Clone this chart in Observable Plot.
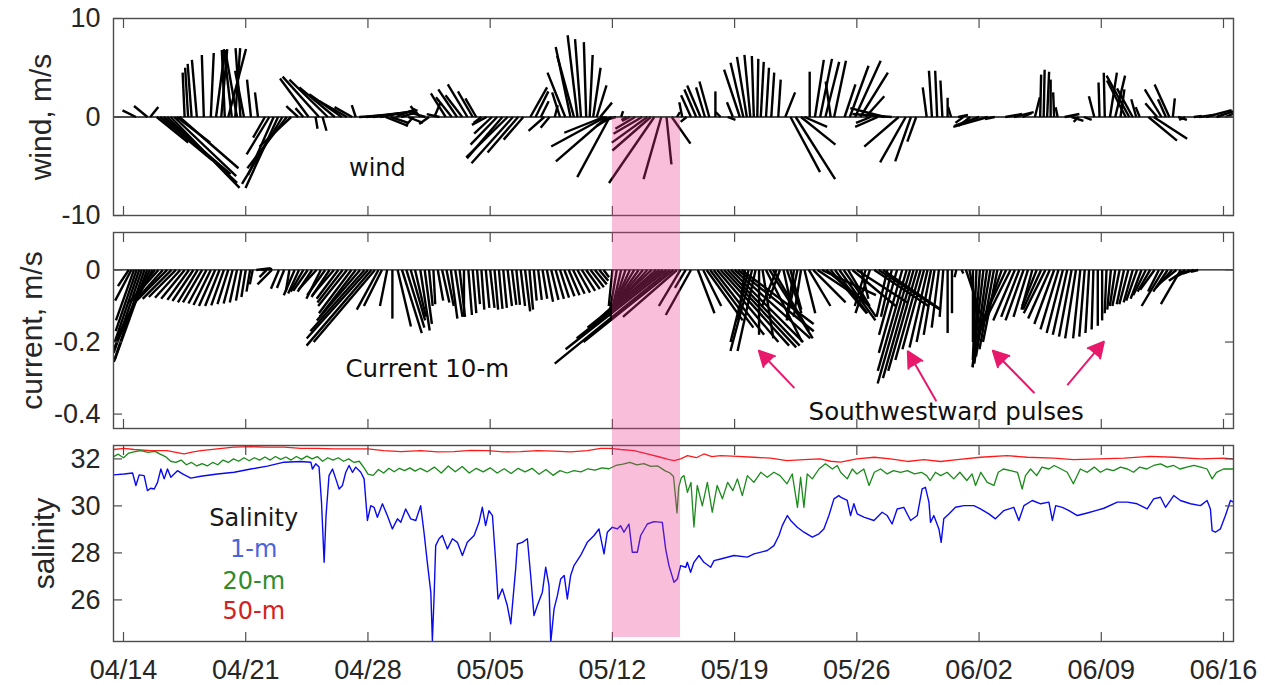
<!DOCTYPE html>
<html><head><meta charset="utf-8">
<script src="https://cdn.jsdelivr.net/npm/d3@7"></script>
<script src="https://cdn.jsdelivr.net/npm/@observablehq/plot@0.6"></script>
<style>
body{margin:0;background:#fff;}
#wrap{position:relative;width:1265px;height:685px;overflow:hidden}
#wrap svg{display:block;position:absolute;left:0}
.band{position:absolute;background:rgb(233,52,139);opacity:0.32;pointer-events:none}
</style></head><body><div id="wrap"></div><script>
// ---------- data (time t = days since 04/14 00:00) ----------
const xTickDays = [0, 7, 14, 21, 28, 35, 42, 49, 56, 63];
const xTickLabels = ["04/14","04/21","04/28","05/05","05/12","05/19","05/26","06/02","06/09","06/16"];
const windTicks = [-10, 0, 10];
const currentTicks = [-0.4, -0.2, 0];
const salinityTicks = [26, 28, 30, 32];
const highlightDays = [28.0, 31.93];

// wind sticks: [t, u (east, m/s), v (north, m/s)]
const windSticks = [
[0.71,-1.36,0.68],[1.37,-1.36,1.12],[1.53,0.82,1.02],[1.9,3.2,-2.6],[2.1,5.3,-4.4],[2.3,6.8,-5.8],[2.5,7.1,-6.7],[2.7,7.0,-7.2],[2.9,6.3,-6.0],[3.05,3.4,-2.6],[3.2,6.0,-5.2],
[3.5,-0.2,4.5],[3.7,-0.3,5.0],[3.9,-0.4,5.4],[4.2,-0.5,5.8],[4.6,-0.2,6.3],[5.0,0.3,6.5],[5.3,0.9,6.8],[5.6,0.6,6.9],[5.8,-0.3,6.8],[6.0,1.8,6.9],[6.2,-0.8,6.9],[6.4,0.5,7.0],[6.5,-1.2,6.8],[6.7,-0.5,7.0],[6.9,-0.9,4.7],[7.3,-0.4,3.8],[7.7,-0.3,2.5],
[8.1,-1.2,-2.1],[8.35,-2.3,-3.8],[8.6,-2.6,-5.9],[8.85,-3.3,-7.2],[9.1,-4.1,-6.8],[9.35,-4.0,-5.2],[9.6,-3.2,-3.0],
[10.0,-1.2,1.1],[10.3,-0.8,0.9],[10.6,-2.9,3.9],[11.0,0.2,-1.2],[11.2,-3.7,4.1],[11.4,0.4,-1.4],[11.7,-3.9,3.8],[12.1,-3.6,3.0],[12.5,-3.3,2.3],[12.8,-2.8,1.6],[13.1,-1.8,1.0],[13.3,-0.4,1.2],
[13.5,3.0,0.2],[13.9,3.6,0.4],[14.3,4.2,0.6],[14.7,3.8,0.7],[15.0,2.3,-0.9],[15.3,1.8,-0.6],[15.6,2.0,0.8],[15.9,1.6,0.5],[16.3,1.5,-0.6],[16.6,-0.8,-0.9],
[17.0,-1.0,1.1],[17.3,-1.4,0.4],[17.5,-1.0,-0.7],[17.8,0.6,1.4],[18.1,-1.3,0.3],[18.45,-1.5,2.4],[18.8,-1.6,2.0],[19.1,-1.9,2.8],[19.4,-1.7,2.2],[19.7,-2.0,3.3],[20.0,-1.5,2.6],[20.2,-1.1,1.9],
[20.5,-0.8,-0.6],[20.8,-1.5,-0.8],[21.1,-1.8,-1.7],[21.4,-2.7,-2.8],[21.7,-3.6,-4.2],[22.0,-4.2,-4.1],[22.3,-4.2,-4.7],[22.6,-3.1,-3.6],[22.9,-2.0,-2.3],
[23.3,1.7,3.0],[23.6,1.3,2.6],[23.9,0.8,1.6],[24.1,-1.6,-1.4],[24.4,-0.9,-1.1],[24.7,0.3,1.2],[25.0,-0.8,2.5],[25.3,-1.8,4.5],[25.6,-1.5,7.1],[25.8,-1.7,6.2],[26.0,-1.0,8.3],[26.2,-0.6,7.9],[26.5,-0.24,7.6],[26.7,0.3,6.3],[26.9,0.75,5.0],[27.1,1.0,3.2],[27.3,1.2,1.46],
[27.5,-4.0,-1.6],[27.6,-5.5,-3.0],[27.7,-5.2,-4.5],[27.85,-3.3,-6.1],[27.95,-1.5,-0.9],[28.2,-1.0,-0.3],[28.5,0.2,0.6],[28.8,-0.5,-0.3],[29.0,-0.8,-0.4],[29.3,-2.0,-1.2],[29.7,-2.9,-1.7],[30.0,-3.6,-2.6],[30.2,-3.9,-3.4],[30.4,-4.6,-6.7],[30.8,-1.8,-6.3],[31.1,0.5,-4.8],[31.4,1.9,-2.7],[31.7,0.3,0.5],
[32.0,-0.3,1.5],[32.25,-0.6,-0.5],[32.5,-1.0,2.2],[32.8,-1.2,2.8],[33.05,-1.36,3.2],[33.3,-0.9,3.0],[33.55,-1.0,3.6],[33.9,0.0,2.6],[34.2,-0.5,0.5],[34.6,0.8,-0.3],[34.9,-0.6,1.5],
[35.3,-1.6,4.8],[35.5,-1.3,5.5],[35.7,-1.0,6.1],[35.9,-0.6,6.3],[36.1,-0.2,6.2],[36.3,0.1,5.9],[36.5,0.3,5.6],[36.8,0.3,5.0],[37.1,0.3,4.5],[37.5,0.25,3.8],[37.9,1.0,2.5],
[38.2,3.0,-5.6],[38.5,4.0,-6.3],[38.8,3.5,-2.8],[39.0,2.3,-1.0],[39.3,0.0,4.6],[39.6,0.9,5.8],[39.9,1.2,5.9],[40.2,1.4,5.6],[40.5,-0.5,3.6],[40.7,1.2,5.7],
[41.3,1.1,3.3],[41.6,1.9,5.2],[41.9,2.6,5.7],[42.2,2.8,4.5],[42.5,1.9,2.1],[42.8,-1.5,-0.6],[43.2,-2.3,-1.0],[43.6,-3.5,0.9],[44.0,-4.0,0.3],[44.4,-3.5,-3.0],[44.8,-2.6,-4.6],[45.1,-1.6,-4.5],[45.4,-0.9,-2.5],
[46.0,-0.4,3.0],[46.3,-0.3,4.7],[46.6,-0.2,4.7],[46.9,-0.2,3.7],[47.2,0.0,1.95],[47.4,-0.3,1.0],[47.8,1.0,0.2],[48.1,-0.8,-0.6],[48.5,-1.2,-0.9],[49.0,-2.5,-0.9],[49.5,-3.5,-1.0],[49.9,-1.0,-0.2],
[50.5,1.7,0.3],[51.0,2.0,0.5],[51.5,0.9,0.4],[52.2,0.5,2.0],[52.5,0.1,4.3],[52.7,0.1,4.8],[52.9,0.2,4.6],[53.1,0.0,3.8],[53.3,-0.1,2.5],[53.5,-0.2,1.0],
[53.9,1.5,0.3],[54.3,1.2,-0.4],[54.7,-0.5,-0.5],[55.0,0.8,-0.3],[55.6,-0.55,2.1],[55.9,-0.1,3.5],[56.2,-0.1,4.5],[56.5,0.7,4.5],[56.8,1.0,4.2],[57.1,0.4,2.8],[57.4,-1.9,3.7],[57.6,-2.3,4.2],[57.8,-1.6,2.9],[58.0,-0.5,1.8],[58.2,-0.4,1.0],
[58.7,2.9,-2.4],[59.0,3.4,-2.2],[59.2,-1.2,1.4],[59.45,-1.7,2.8],[59.7,-0.8,1.8],[59.9,-1.5,3.3],[60.1,0.2,1.9],[60.4,0.9,-0.3],[60.8,-0.6,-0.3],
[61.3,0.8,0.1],[61.6,1.5,0.2],[62.0,2.6,0.7],[62.6,3.3,1.1],[63.1,2.0,0.8]
];

// current sticks at 10 m: [t, u, v] (m/s)
const currentSticks = [
[0.3,-0.03,-0.045],[0.45,-0.045,-0.085],[0.6,-0.05,-0.14],[0.75,-0.058,-0.17],[0.9,-0.068,-0.2],[1.05,-0.078,-0.23],[1.2,-0.085,-0.255],[1.35,-0.09,-0.25],[1.5,-0.1,-0.22],[1.65,-0.1,-0.19],
[1.8,-0.07,-0.09],[2.0,-0.08,-0.09],[2.25,-0.08,-0.09],[2.5,-0.085,-0.085],[2.75,-0.08,-0.08],[3.0,-0.075,-0.075],[3.25,-0.07,-0.077],[3.5,-0.065,-0.08],[3.75,-0.06,-0.083],[4.0,-0.058,-0.086],[4.25,-0.055,-0.09],[4.5,-0.053,-0.09],[4.75,-0.05,-0.093],[5.0,-0.048,-0.097],[5.25,-0.045,-0.1],[5.5,-0.04,-0.1],[5.75,-0.035,-0.098],[6.0,-0.03,-0.095],[6.25,-0.025,-0.093],[6.5,-0.02,-0.09],[6.75,-0.015,-0.085],[7.0,-0.012,-0.075],[7.25,-0.01,-0.06],[7.4,-0.008,-0.04],
[7.6,0.04,0.005],[7.9,0.03,0.003],[8.2,-0.02,-0.02],[8.5,-0.04,-0.04],[8.9,-0.022,-0.052],[9.2,-0.02,-0.05],[9.5,-0.01,-0.06],
[9.8,-0.03,-0.07],[10.05,-0.03,-0.065],[10.3,-0.035,-0.06],[10.55,-0.04,-0.058],[10.8,-0.04,-0.06],[11.05,-0.05,-0.055],[11.3,-0.04,-0.08],[11.55,-0.05,-0.07],[11.8,-0.05,-0.075],[12.05,-0.06,-0.07],[12.3,-0.06,-0.08],[12.55,-0.07,-0.09],[12.8,-0.08,-0.1],[13.05,-0.09,-0.12],[13.3,-0.1,-0.13],[13.55,-0.12,-0.14],[13.8,-0.15,-0.17],[14.0,-0.17,-0.19],[14.2,-0.18,-0.21],[14.4,-0.17,-0.2],[14.6,-0.06,-0.11],[14.8,-0.05,-0.1],
[15.1,-0.02,-0.1],[15.4,0.0,-0.135],[15.7,0.037,-0.157],[15.95,0.055,-0.175],[16.2,0.05,-0.16],[16.45,0.04,-0.14],[16.7,0.03,-0.13],
[17.0,0.026,-0.168],[17.25,0.02,-0.15],[17.5,0.01,-0.1],[17.75,0.005,-0.095],[18.0,0.015,-0.085],[18.25,0.02,-0.09],[18.5,0.02,-0.1],[18.75,0.018,-0.135],[19.0,0.02,-0.13],[19.25,0.015,-0.13],[19.5,0.0,-0.13],[19.75,0.01,-0.125],[20.0,0.01,-0.12],[20.25,0.008,-0.095],[20.5,0.008,-0.11],[20.75,0.01,-0.105],[21.0,0.012,-0.105],[21.25,0.01,-0.11],[21.5,0.01,-0.108],[21.75,0.01,-0.105],[22.0,0.012,-0.1],[22.25,0.012,-0.097],[22.5,0.01,-0.097],[22.75,0.012,-0.1],[23.0,0.014,-0.115],[23.25,0.01,-0.11],[23.5,0.008,-0.085],[23.75,0.01,-0.083],[24.0,0.013,-0.08],[24.25,0.017,-0.088],[24.5,0.02,-0.083],[24.75,0.023,-0.08],[25.0,0.025,-0.077],[25.25,0.028,-0.073],[25.5,0.03,-0.07],[25.75,0.032,-0.066],[26.0,0.035,-0.063],[26.25,0.037,-0.058],[26.5,0.038,-0.053],[26.75,0.037,-0.048],[27.0,0.033,-0.04],[27.25,0.025,-0.03],[27.5,0.015,-0.02],
[28.0,-0.01,-0.1],[28.25,-0.02,-0.12],[28.5,-0.03,-0.13],[28.75,-0.04,-0.12],[29.0,-0.05,-0.11],[29.25,-0.06,-0.1],[29.5,-0.07,-0.1],[29.75,-0.09,-0.11],[30.0,-0.11,-0.12],[30.25,-0.14,-0.13],[30.5,-0.17,-0.15],[30.7,-0.2,-0.16],[30.9,-0.24,-0.19],[31.1,-0.28,-0.22],[31.3,-0.32,-0.26],[31.5,-0.25,-0.2],[31.7,-0.15,-0.13],[31.9,-0.06,-0.1],[32.2,-0.03,-0.05],[32.5,-0.07,-0.125],[32.9,0.046,-0.12],
[33.2,0.05,-0.1],[33.4,0.1,-0.14],[33.6,0.12,-0.16],[33.8,0.14,-0.18],[34.0,0.17,-0.2],[34.2,0.19,-0.21],[34.4,0.2,-0.215],[34.6,0.2,-0.21],[34.8,0.2,-0.2],[35.0,0.21,-0.19],[35.2,0.21,-0.17],[35.4,0.2,-0.15],[35.6,-0.02,-0.14],[35.8,-0.05,-0.2],[36.0,-0.06,-0.225],[36.2,-0.05,-0.225],[36.4,0.0,-0.18],[36.6,0.03,-0.19],[36.8,0.1,-0.2],[37.0,0.12,-0.19],[37.2,0.1,-0.17],[37.4,-0.04,-0.1],[37.6,-0.03,-0.08],[37.8,0.02,-0.09],[38.0,0.04,-0.12],[38.2,0.03,-0.11],[38.4,-0.02,-0.13],[38.6,-0.03,-0.14],[38.8,-0.02,-0.13],[39.0,0.03,-0.12],[39.25,0.06,-0.1],[39.5,0.09,-0.09],[39.75,0.12,-0.08],[40.0,0.15,-0.07],
[40.25,0.12,-0.1],[40.5,0.1,-0.12],[40.75,0.09,-0.12],[41.0,0.1,-0.14],[41.25,0.09,-0.13],[41.5,0.06,-0.1],[41.75,0.12,-0.1],[42.0,0.14,-0.09],[42.25,0.02,-0.08],[42.5,-0.03,-0.1],[42.75,-0.04,-0.12],[43.0,0.15,-0.1],[43.25,0.17,-0.11],[43.5,0.16,-0.11],[43.75,-0.03,-0.13],[44.0,-0.03,-0.13],[44.3,-0.05,-0.18],[44.6,-0.065,-0.23],[44.85,-0.08,-0.28],[45.05,-0.09,-0.315],[45.25,-0.085,-0.3],[45.45,-0.08,-0.28],[45.65,-0.07,-0.25],[45.85,-0.06,-0.22],[46.05,-0.05,-0.215],[46.25,-0.04,-0.2],[46.45,-0.03,-0.18],[46.7,-0.02,-0.16],[46.95,-0.01,-0.13],[47.2,0.0,-0.175],[47.45,0.0,-0.12],[47.7,-0.005,-0.02],[48.0,0.005,-0.01],
[48.25,0.04,-0.12],[48.45,0.03,-0.16],[48.65,0.0,-0.2],[48.85,-0.01,-0.25],[49.05,-0.02,-0.27],[49.25,-0.03,-0.27],[49.45,-0.035,-0.26],[49.65,-0.04,-0.24],[49.85,-0.04,-0.22],[50.05,-0.04,-0.2],[50.3,-0.06,-0.17],[50.55,-0.07,-0.15],[50.8,-0.07,-0.14],[51.05,-0.06,-0.14],[51.3,-0.05,-0.13],[51.55,-0.05,-0.14],[51.8,-0.04,-0.13],[52.05,-0.03,-0.11],[52.3,-0.04,-0.1],[52.55,-0.05,-0.11],[52.8,-0.06,-0.12],
[53.05,-0.06,-0.135],[53.3,-0.055,-0.15],[53.55,-0.05,-0.165],[53.8,-0.045,-0.175],[54.05,-0.04,-0.18],[54.3,-0.035,-0.185],[54.55,-0.03,-0.19],[54.8,-0.02,-0.19],[55.05,-0.015,-0.185],[55.3,-0.01,-0.175],[55.55,-0.005,-0.165],[55.8,0.0,-0.155],[56.05,0.0,-0.14],[56.3,-0.005,-0.12],[56.55,-0.01,-0.11],[56.8,-0.015,-0.1],
[57.05,-0.02,-0.1],[57.3,-0.02,-0.095],[57.55,-0.025,-0.095],[57.8,-0.025,-0.09],[58.05,-0.03,-0.085],[58.3,-0.03,-0.08],[58.55,-0.035,-0.07],[58.8,-0.035,-0.06],[59.05,-0.04,-0.055],[59.3,-0.03,-0.06],[59.55,-0.06,-0.1],[59.8,-0.04,-0.06],[60.05,-0.045,-0.05],[60.3,-0.05,-0.04],[60.55,-0.055,-0.095],[60.8,-0.045,-0.03],[61.05,-0.04,-0.02],[61.3,-0.03,-0.01],[61.55,-0.02,-0.005]
];

// salinity [t, value]
const salinity1m = [
[-0.57,31.32],[0.04,31.36],[0.52,31.4],[0.71,30.87],[0.9,31.32],[1.18,31.29],[1.37,30.65],[1.56,30.75],[1.76,30.72],[1.95,31.0],[2.14,31.57],[2.33,31.15],[2.52,31.57],[2.71,31.22],[2.9,31.36],[3.09,31.5],[3.38,31.36],[3.85,31.18],[4.43,31.26],[5.38,31.36],[6.34,31.43],[7.29,31.57],[8.24,31.69],[9.2,31.86],[10.15,31.89],[10.73,31.86],[10.82,31.57],[11.01,31.79],[11.2,31.65],[11.34,30.16],[11.49,27.6],[11.6,29.59],[11.77,31.29],[11.97,31.57],[12.16,31.15],[12.35,30.72],[12.54,30.87],[12.73,31.43],[12.92,31.72],[13.11,31.43],[13.3,31.65],[13.59,31.43],[13.78,31.15],[13.97,29.38],[14.16,30.01],[14.35,29.94],[14.54,29.52],[14.83,30.09],[15.11,29.59],[15.4,29.02],[15.69,29.45],[15.88,29.3],[16.16,29.87],[16.45,29.45],[16.74,29.38],[17.02,30.01],
[17.21,28.88],[17.4,27.6],[17.6,26.33],[17.69,24.27],[17.79,26.18],[17.88,28.31],[18.07,28.6],[18.26,28.74],[18.55,28.17],[18.84,28.6],[19.12,28.45],[19.41,27.89],[19.69,28.45],[20.08,28.74],[20.36,29.3],[20.55,29.94],[20.74,29.16],[20.93,29.8],[21.13,29.59],[21.32,27.6],[21.45,26.04],[21.7,26.47],[21.98,25.76],[22.18,24.98],[22.46,27.32],[22.56,28.38],[22.84,28.45],[23.13,28.6],[23.32,27.04],[23.51,25.33],[23.7,25.76],[23.99,26.33],[24.18,27.39],[24.37,26.61],[24.47,24.2],[24.66,25.62],[24.85,26.18],[25.04,26.89],[25.24,27.04],[25.42,26.04],[25.61,27.04],[25.8,27.46],[26.18,27.89],[26.56,28.45],[26.95,28.74],[27.23,29.02],[27.52,27.96],[27.71,28.88],[27.99,29.09],[28.28,29.02],[28.47,29.16],[28.66,28.88],[28.95,29.23],[29.14,28.03],[29.43,28.03],[29.62,28.74],[30.0,29.23],[30.38,29.33],[30.86,29.3],[31.05,28.17],[31.24,27.46],[31.53,26.75],[31.72,26.89],[31.91,27.46],[32.2,27.39],[32.29,27.6],[32.48,27.18],[32.67,27.6],[32.96,27.89],[33.24,27.6],[33.63,27.39],[33.82,27.67],[34.2,27.74],[34.96,27.89],[35.73,27.82],[36.11,27.96],[36.87,28.1],[37.25,28.31],[37.54,28.74],[37.73,29.16],[38.02,29.59],[38.21,29.38],[38.59,29.09],[38.97,28.88],[39.45,28.67],[39.83,28.81],[40.11,29.02],[40.4,29.59],[40.69,30.3],[40.97,30.44],
[41.07,30.37],[41.45,30.23],[41.64,29.59],[41.83,30.09],[42.02,29.66],[42.4,29.52],[42.98,29.38],[43.45,29.73],[43.74,29.59],[44.02,29.23],[44.31,29.87],[44.69,29.94],[45.08,29.38],[45.46,29.59],[45.74,30.72],[45.93,30.79],[46.13,30.16],[46.22,29.3],[46.41,29.59],[46.7,29.02],[46.83,28.45],[46.98,29.45],[47.27,29.66],[47.65,29.94],[48.13,30.01],[48.7,30.01],[49.08,29.87],[49.56,29.66],[49.94,29.45],[50.42,29.8],[50.99,29.94],[51.28,29.38],[51.57,30.01],[52.05,30.23],[52.53,30.09],[53.0,30.16],[53.2,29.38],[53.39,30.01],[53.77,29.94],[54.15,29.8],[54.63,29.59],[55.2,29.7],[55.68,29.8],[56.15,29.9],[56.92,30.16],[57.5,30.16],[58.05,30.09],[58.63,29.87],[59.0,30.3],[59.39,30.37],[59.68,29.94],[60.15,30.44],[60.53,30.23],[61.11,30.09],[61.68,30.01],[62.06,30.23],[62.25,29.87],[62.35,28.95],[62.54,28.88],[62.82,29.02],[63.11,29.59],[63.4,30.23],[63.57,30.16]
];
const salinity20m = [
[-0.57,32.1],[-0.3,32.2],[0,32.05],[0.3,32.25],[0.6,32.3],[1.0,32.35],[1.4,32.28],[1.8,32.32],[2.1,32.2],[2.4,32.1],[2.7,31.9],[3.0,31.85],[3.3,31.95],[3.6,31.75],[3.9,31.85],[4.2,31.7],[4.5,31.8],[4.8,31.7],[5.1,31.85],[5.4,31.75],[5.7,31.95],[6.0,31.85],[6.3,32.0],[6.6,31.9],[6.9,32.05],[7.2,31.92],[7.5,32.05],[7.8,31.95],[8.1,32.08],[8.4,31.95],[8.7,32.1],[9.0,31.98],[9.3,32.08],[9.6,31.95],[9.9,32.1],[10.2,31.98],[10.5,32.12],[10.8,32.0],[11.1,32.1],[11.4,31.9],[11.7,32.05],[12.0,31.95],[12.3,32.05],[12.6,31.9],[12.9,32.0],[13.2,31.85],[13.5,31.9],[13.8,31.6],[14.0,31.35],[14.3,31.3],[14.6,31.55],[14.9,31.4],[15.2,31.6],[15.5,31.45],[15.8,31.6],[16.1,31.5],[16.4,31.62],[16.7,31.48],[17.0,31.6],
[17.4,31.45],[17.8,31.65],[18.2,31.4],[18.6,31.7],[19.0,31.45],[19.4,31.68],[19.8,31.4],[20.2,31.6],[20.6,31.45],[21.0,31.62],[21.4,31.4],[21.8,31.58],[22.2,31.38],[22.6,31.6],[23.0,31.45],[23.4,31.6],[23.8,31.35],[24.2,31.55],[24.6,31.3],[25.0,31.5],[25.4,31.4],[25.8,31.5],[26.2,31.45],[26.6,31.58],[27.0,31.52],[27.4,31.62],[27.8,31.58],[28.2,31.72],[28.6,31.78],[29.0,31.85],[29.4,31.75],[29.8,31.8],[30.2,31.68],[30.6,31.7],[31.0,31.5],[31.3,31.4],[31.5,31.25],[31.6,30.5],[31.7,29.7],[31.8,30.8],[31.95,31.2],
[32.1,31.29],[32.3,30.58],[32.5,31.0],[32.67,29.1],[32.86,30.87],[33.15,30.0],[33.44,31.0],[33.72,29.73],[34.0,30.87],[34.3,30.3],[34.6,31.0],[34.9,30.65],[35.16,31.15],[35.44,30.44],[35.73,31.29],[36.1,31.0],[36.5,31.43],[36.87,31.22],[37.25,31.43],[37.6,31.29],[38.0,30.94],[38.3,31.36],[38.6,29.94],[38.78,31.22],[38.97,29.94],[39.16,31.36],[39.45,31.15],[39.83,31.57],[40.2,31.79],[40.6,31.57],[40.88,31.72],[41.07,31.43],[41.45,31.15],[41.74,31.57],[42.0,31.36],[42.4,31.57],[42.7,30.87],[43.0,31.43],[43.36,31.57],[43.74,31.36],[44.1,31.5],[44.5,31.43],[44.9,31.5],[45.3,31.36],[45.7,31.43],[46.0,31.29],[46.2,31.08],[46.5,31.43],[46.8,31.29],[47.17,31.43],[47.55,31.15],[47.9,31.43],[48.3,31.08],[48.6,31.36],[48.8,30.87],[49.1,31.43],[49.47,31.0],[49.85,30.87],[50.1,31.43],[50.4,31.57],[50.8,31.5],[51.2,31.43],[51.47,30.72],[51.66,31.29],[51.95,31.57],[52.3,31.29],[52.6,31.65],[53.0,31.57],[53.3,31.72],[53.7,31.57],[54.05,31.43],[54.4,30.94],[54.8,31.57],[55.2,31.43],[55.6,31.65],[55.95,31.43],[56.3,31.57],[56.7,31.5],[57.1,31.65],[57.5,31.57],[57.85,31.43],[58.2,31.65],[58.6,31.57],[59.0,31.72],[59.4,31.79],[59.77,31.65],[60.15,31.72],[60.5,31.57],[60.9,31.65],[61.3,31.72],[61.7,31.65],[62.06,31.57],[62.35,31.15],[62.6,31.43],[63.0,31.57],[63.57,31.57]
];
const salinity50m = [
[-0.57,32.4],[0.04,32.45],[0.6,32.4],[1.56,32.35],[2.5,32.35],[3.0,32.28],[3.47,32.21],[4.0,32.3],[4.43,32.35],[5.38,32.43],[6.3,32.5],[7.3,32.52],[8.2,32.5],[9.2,32.5],[10.15,32.45],[11.1,32.45],[12.06,32.43],[13.0,32.43],[14.0,32.43],[14.9,32.35],[15.9,32.31],[17.02,32.35],[18.0,32.3],[18.93,32.31],[19.9,32.36],[20.84,32.35],[21.8,32.3],[22.75,32.31],[23.7,32.35],[24.66,32.33],[25.6,32.3],[26.56,32.35],[27.33,32.45],[27.9,32.45],[28.47,32.4],[29.24,32.35],[30.0,32.21],[30.76,32.07],[31.2,31.98],[31.53,31.93],[31.91,32.0],[32.3,32.14],[32.8,32.05],[33.24,32.21],[33.7,32.1],[34.2,32.14],[35.16,32.11],[36.1,32.07],[37.06,32.03],[38.0,31.93],[38.97,31.97],[39.9,32.0],[40.5,31.9],[41.07,31.86],[42.0,32.0],[43.0,32.07],[43.93,32.0],[44.9,31.89],[45.84,31.97],[46.8,31.89],[47.75,31.97],[49.08,32.07],[50.6,32.14],[51.76,32.07],[53.28,32.03],[54.4,31.97],[55.9,32.0],[57.3,32.03],[58.8,32.11],[60.15,32.07],[61.7,32.0],[63.0,32.03],[63.57,32.0]
];

// annotations
const windNotes = [{t: 14.54, v: -5.2, text: "wind"}];
const currentNotes = [{t: 17.4, v: -0.276, text: "Current 10-m"}, {t: 47.12, v: -0.394, text: "Southwestward pulses"}];
const pulseArrows = [
  {t1: 38.39, v1: -0.326, t2: 36.39, v2: -0.224},
  {t1: 46.53, v1: -0.3625, t2: 44.92, v2: -0.226},
  {t1: 52.14, v1: -0.34, t2: 49.79, v2: -0.224},
  {t1: 54.08, v1: -0.318, t2: 56.15, v2: -0.199}
];
const legendItems = [
  {t: 7.46, s: 29.46, text: "Salinity", color: "#1a1a1a"},
  {t: 7.46, s: 28.17, text: "1-m", color: "#4a64dc"},
  {t: 7.46, s: 26.81, text: "20-m", color: "#2e8b2e"},
  {t: 7.46, s: 25.53, text: "50-m", color: "#d42020"}
];

// ---------- rendering ----------
const BASE = Date.UTC(2015, 3, 14);
const day = t => new Date(BASE + t * 864e5);
const X0 = -0.573, X1 = 63.573;
const W = 1265, ML = 113, MR = 32;
const FONT = "'Liberation Sans', Arial, Helvetica, sans-serif";
const NOTE_FONT = "'DejaVu Sans', Verdana, sans-serif";
const xTicks = xTickDays.map(day);
const fmtX = d => xTickLabels[xTickDays.indexOf(Math.round((d - BASE) / 864e5))];
const fmtY = d => String(d);
const AX = "#4d4d4d";

function panel({height, marginTop, marginBottom, yDomain, yTicks, yLabel, labelX, marks, xLabels}) {
  return Plot.plot({
    width: W, height, marginLeft: ML, marginRight: MR, marginTop, marginBottom,
    style: {fontFamily: FONT, fontSize: "27px", color: "#262626", background: "transparent"},
    x: {type: "utc", domain: [day(X0), day(X1)]},
    y: {domain: yDomain},
    marks: [
      ...marks,
      Plot.frame({stroke: AX, strokeWidth: 1.4}),
      Plot.axisX(xTicks, {anchor: "bottom", tickSize: -9, text: null, label: null, stroke: AX, strokeWidth: 1.2}),
      Plot.axisX(xTicks, {anchor: "top", tickSize: -9, text: null, label: null, stroke: AX, strokeWidth: 1.2}),
      Plot.axisY(yTicks, {anchor: "left", tickSize: -9, text: null, label: null, stroke: AX, strokeWidth: 1.2}),
      Plot.axisY(yTicks, {anchor: "right", tickSize: -9, text: null, label: null, stroke: AX, strokeWidth: 1.2}),
      Plot.axisY(yTicks, {anchor: "left", tickSize: 0, tickPadding: 13, tickFormat: fmtY, label: null, fontSize: 27, fill: "#262626"}),
      xLabels ? Plot.axisX(xTicks, {anchor: "bottom", tickSize: 0, tickPadding: 18, tickFormat: fmtX, label: null, fontSize: 27, fill: "#262626"}) : null,
      Plot.text([yLabel], {frameAnchor: "left", dx: labelX - ML, rotate: -90, text: d => d, textAnchor: "middle", lineAnchor: "middle", fontSize: 30, fill: "#262626"})
    ].filter(Boolean)
  });
}

const pxPerDay = (W - ML - MR) / (X1 - X0);

// panel placement (svg top offset within the page); svgs overlap a little so tick labels are never cut
const windTop = 0, windH = 236, windMT = 18, windMB = 21, windDom = [-10, 10];
const curTop = 218, curH = 230, curMT = 14, curMB = 20, curDom = [-0.44, 0.104];
const salTop = 431, salH = 254, salMT = 14, salMB = 44, salDom = [24.23, 32.57];

// wind panel
const kWind = ((windH - windMT - windMB) / (windDom[1] - windDom[0])) / pxPerDay;
const windPlot = panel({
  height: windH, marginTop: windMT, marginBottom: windMB, yDomain: windDom, yTicks: windTicks,
  yLabel: "wind, m/s", labelX: 40.5,
  marks: [
    Plot.ruleY([0], {stroke: "#111", strokeWidth: 1.3}),
    Plot.link(windSticks, {x1: d => day(d[0]), y1: () => 0, x2: d => day(d[0] + d[1] * kWind), y2: d => d[2], stroke: "#000", strokeWidth: 2.4, clip: true}),
    Plot.text(windNotes, {x: d => day(d.t), y: "v", text: "text", fontFamily: NOTE_FONT, fontSize: 24, fill: "#111"})
  ]
});

// current panel
const kCur = ((curH - curMT - curMB) / (curDom[1] - curDom[0])) / pxPerDay;
const curPlot = panel({
  height: curH, marginTop: curMT, marginBottom: curMB, yDomain: curDom, yTicks: currentTicks,
  yLabel: "current, m/s", labelX: 31.5,
  marks: [
    Plot.ruleY([0], {stroke: "#111", strokeWidth: 1.3}),
    Plot.link(currentSticks, {x1: d => day(d[0]), y1: () => 0, x2: d => day(d[0] + d[1] * kCur), y2: d => d[2], stroke: "#000", strokeWidth: 2.4, clip: true}),
    Plot.text(currentNotes, {x: d => day(d.t), y: "v", text: "text", fontFamily: NOTE_FONT, fontSize: 24.5, fill: "#111"}),
    Plot.arrow(pulseArrows, {x1: d => day(d.t1), y1: "v1", x2: d => day(d.t2), y2: "v2", stroke: "#e8196b", fill: "#e8196b", strokeWidth: 2, headLength: 13, headAngle: 55})
  ]
});

// salinity panel
const salPlot = panel({
  height: salH, marginTop: salMT, marginBottom: salMB, yDomain: salDom, yTicks: salinityTicks,
  yLabel: "salinity", labelX: 44, xLabels: true,
  marks: [
    Plot.line(salinity50m, {x: d => day(d[0]), y: d => d[1], stroke: "#ff1a1a", strokeWidth: 1.3, clip: true}),
    Plot.line(salinity20m, {x: d => day(d[0]), y: d => d[1], stroke: "#1a8a1a", strokeWidth: 1.3, clip: true}),
    Plot.line(salinity1m, {x: d => day(d[0]), y: d => d[1], stroke: "#0a0af0", strokeWidth: 1.4, clip: true}),
    Plot.text(legendItems, {x: d => day(d.t), y: "s", text: "text", fill: "color", fontFamily: NOTE_FONT, fontSize: 24})
  ]
});

const wrap = document.getElementById("wrap");
windPlot.style.top = windTop + "px";
curPlot.style.top = curTop + "px";
salPlot.style.top = salTop + "px";
wrap.append(windPlot, curPlot, salPlot);

// highlighted interval (semi-transparent pink band over all panels)
const bandX = windPlot.scale("x");
const bandLeft = bandX.apply(day(highlightDays[0]));
const bandRight = bandX.apply(day(highlightDays[1]));
const bandTop = windTop + windPlot.scale("y").apply(0);
const bandBottom = salTop + salPlot.scale("y").apply(24.4);
const band = document.createElement("div");
band.className = "band";
band.style.left = bandLeft + "px";
band.style.width = (bandRight - bandLeft) + "px";
band.style.top = bandTop + "px";
band.style.height = (bandBottom - bandTop) + "px";
wrap.appendChild(band);
</script></body></html>
